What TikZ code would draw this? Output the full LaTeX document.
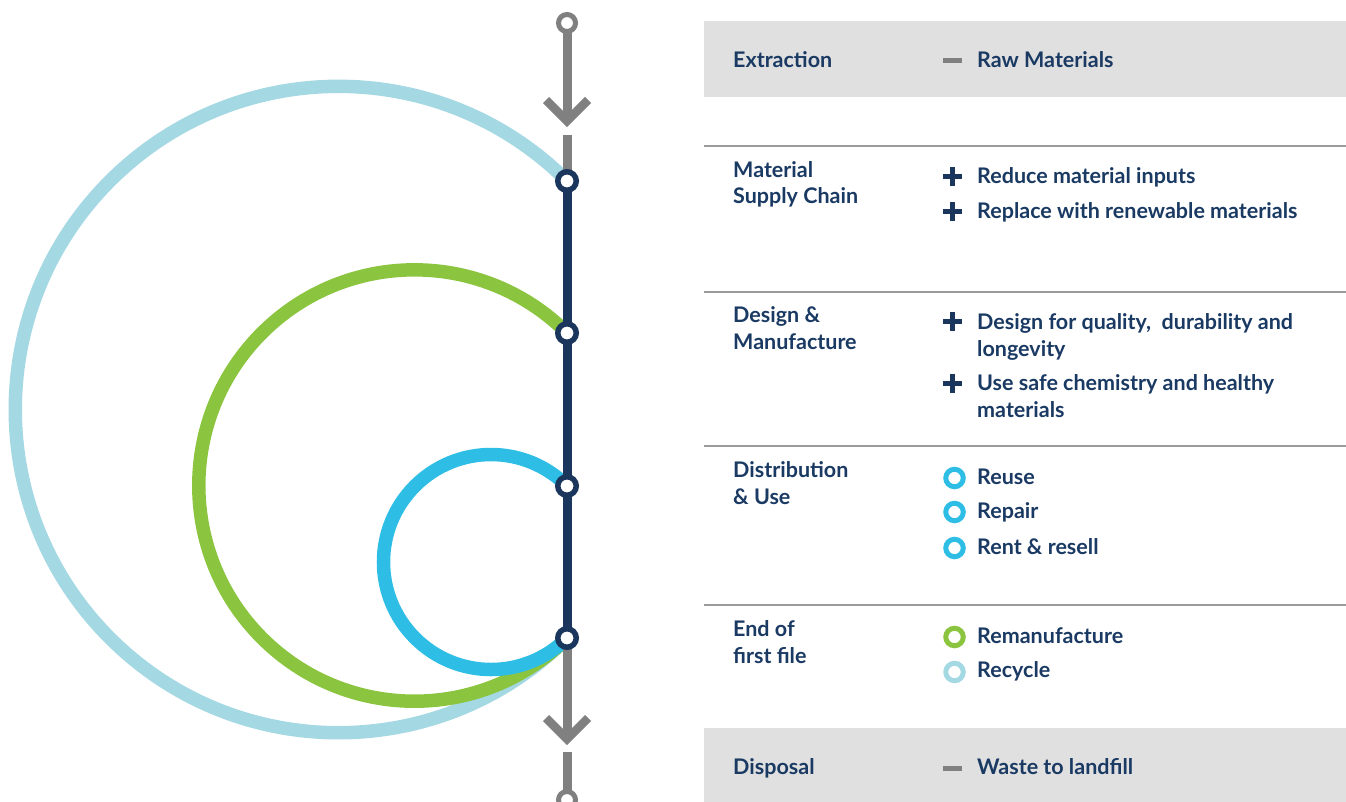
\documentclass[tikz,border=0pt]{standalone}
\usepackage{fontspec}
\setmainfont{Lato}
\usetikzlibrary{backgrounds}

\definecolor{navy}{RGB}{27,54,93}
\definecolor{inktext}{RGB}{26,58,99}
\definecolor{linegray}{RGB}{128,128,128}
\definecolor{bandgray}{RGB}{224,224,224}
\definecolor{rulegray}{RGB}{155,155,155}
\definecolor{recycleblue}{RGB}{164,216,227}
\definecolor{remangreen}{RGB}{139,196,63}
\definecolor{reuseblue}{RGB}{46,189,229}

\tikzset{
    stage/.style={circle, draw=navy, fill=white, line width=5.5pt, minimum size=18.5pt, inner sep=0pt},
    endpt/.style={circle, draw=linegray, fill=white, line width=5pt, minimum size=17pt, inner sep=0pt},
    loop/.style={line width=13.5pt},
    track/.style={line width=9pt},
    chev/.style={linegray, line width=8.5pt, line join=miter},
    label/.style={anchor=base west, inner sep=0pt, align=left, text=inktext,
        font=\bfseries\fontsize{21.5}{26.5}\selectfont},
    plusmark/.style={navy, line width=5.5pt},
    dashmark/.style={linegray, line width=5pt},
    bullet/.style={circle, line width=5pt, minimum size=17.5pt, inner sep=0pt}
}

\begin{document}
\begin{tikzpicture}[x=1pt, y=-1pt]
    \useasboundingbox (0,0) rectangle (1346,802);

    % table on the right
    \fill[bandgray] (704,21) rectangle (1346,97);
    \fill[bandgray] (704,728) rectangle (1346,802);
    \foreach \y in {146,292,446,605}
        \draw[rulegray, line width=2pt] (704,\y) -- (1346,\y);

    % stops on the line
    \node[endpt] (top) at (567,23){};
    \node[stage] (sup) at (567,181){};
    \node[stage] (man) at (567,333){};
    \node[stage] (use) at (567,486){};
    \node[stage] (eol) at (567,638){};
    \node[endpt] (bot) at (567,800){};
    \coordinate (toptip) at (567,121);
    \coordinate (topgap) at (567,135);
    \coordinate (bottip) at (567,739);
    \coordinate (botgap) at (567,752);

    \begin{pgfonlayer}{background}
        \draw[loop, recycleblue] (sup.center) arc[start angle=-45, end angle=-315, radius=323.2];
        \draw[loop, remangreen] (man.center) arc[start angle=-45, end angle=-315, radius=215.7];
        \draw[loop, reuseblue] (use.center) arc[start angle=-45, end angle=-315, radius=107.5];
        \draw[track, linegray] (top.center) -- (toptip);
        \draw[track, linegray] (topgap) -- (sup.center);
        \draw[track, navy] (sup.center) -- (eol.center);
        \draw[track, linegray] (eol.center) -- (bottip);
        \draw[track, linegray] (botgap) -- (bot.center);
    \end{pgfonlayer}
    \draw[chev] (toptip) +(-21,-21) -- (toptip) -- +(21,-21);
    \draw[chev] (bottip) +(-21,-21) -- (bottip) -- +(21,-21);

    % stages (base = last line)
    \node[label] (extr) at (733,68){Extraction};
    \node[label] (msc) at (733,204){Material\\Supply Chain};
    \node[label] (dam) at (733,349.3){Design \&\\Manufacture};
    \node[label] (dis) at (733,504.3){Distribution\\\& Use};
    \node[label] (end) at (733,663.3){End of\\first file};
    \node[label] (disp) at (733,774){Disposal};

    % actions
    \node[label] (raw) at (977,68){Raw Materials};
    \node[label] (red) at (977,183.3){Reduce material inputs};
    \node[label] (rep) at (977,218.3){Replace with renewable materials};
    \node[label] (qual) at (977,356){Design for quality,~ durability and\\longevity};
    \node[label] (safe) at (977,417.3){Use safe chemistry and healthy\\materials};
    \node[label] (reu) at (977,484){Reuse};
    \node[label] (rpr) at (977,518.5){Repair};
    \node[label] (rent) at (977,554){Rent \& resell};
    \node[label] (reman) at (977,643){Remanufacture};
    \node[label] (recy) at (977,677.5){Recycle};
    \node[label] (waste) at (977,774){Waste to landfill};

    % markers
    \draw[dashmark] (943,61) -- (962,61);
    \draw[dashmark] (943,768) -- (962,768);
    \foreach \y in {176.7,211.7,321.7,383.3}
        \draw[plusmark] (952.5,\y) +(-9.5,0) -- +(9.5,0) +(0,-9.5) -- +(0,9.5);
    \foreach \y/\c in {478/reuseblue,512/reuseblue,548/reuseblue,637/remangreen,672/recycleblue}
        \node[bullet, draw=\c] (dot\y) at (954.5,\y){};
\end{tikzpicture}
\end{document}
